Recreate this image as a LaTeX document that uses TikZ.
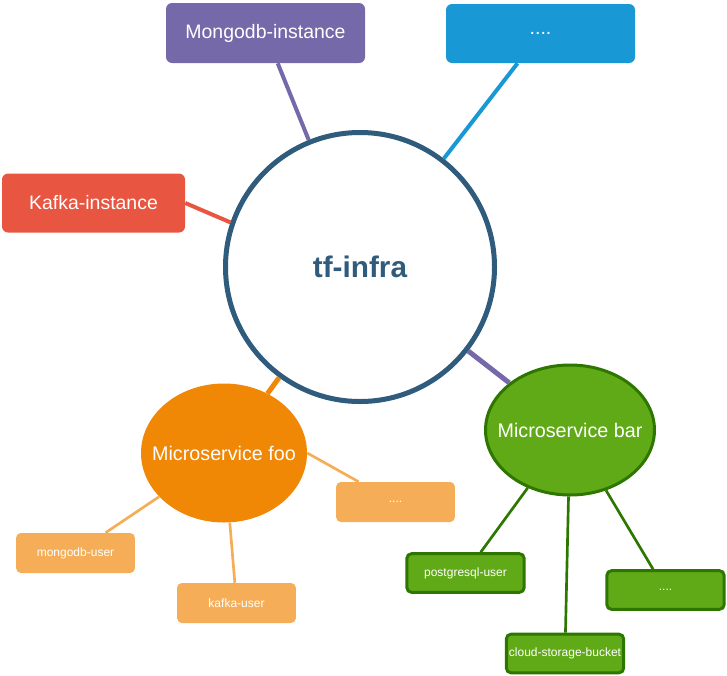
\documentclass[tikz,border=0pt]{standalone}
\usepackage{fontspec}
\setmainfont{Liberation Sans}
\usetikzlibrary{shapes.geometric,calc}
\definecolor{cpurple}{HTML}{7569A9}
\definecolor{cblue}{HTML}{1899D5}
\definecolor{cred}{HTML}{E85642}
\definecolor{cnavy}{HTML}{2F5B7C}
\definecolor{corange}{HTML}{F08705}
\definecolor{clorange}{HTML}{F5AE57}
\definecolor{cgreen}{HTML}{60A917}
\definecolor{cdgreen}{HTML}{2D7600}
\tikzset{
  bigbox/.style={rectangle, rounded corners=4.5pt, inner sep=0pt, text=white, font=\fontsize{14.6}{16}\selectfont},
  smallbox/.style={rectangle, rounded corners=3.5pt, inner sep=0pt, text=white, font=\fontsize{9}{10}\selectfont, minimum width=89pt, minimum height=30pt},
  orangebox/.style={smallbox, fill=clorange},
  greenbox/.style={smallbox, fill=cgreen, draw=cdgreen, line width=2.2pt, minimum width=88pt, minimum height=29pt},
  svc/.style={ellipse, inner sep=0pt},
  svctext/.style={text=white, font=\fontsize{14.8}{16}\selectfont, inner sep=0pt},
  thickline/.style={line width=3pt},
  thinorange/.style={line width=2pt, draw=clorange},
  thingreen/.style={line width=2pt, draw=cdgreen},
}
\begin{document}
\begin{tikzpicture}[x=0.75pt,y=-0.75pt]
\useasboundingbox (0,0) rectangle (727,675);
% nodes
\node[bigbox, fill=cpurple, minimum width=149.25pt, minimum height=45pt] (mongo) at (265.5,33) {Mongodb-instance};
\node[bigbox, fill=cblue, minimum width=141.75pt, minimum height=44.25pt] (dots1) at (540.5,33.5) {....};
\node[bigbox, fill=cred, minimum width=137.25pt, minimum height=44.25pt] (kafka) at (93.5,203) {Kafka-instance};
\node[circle, draw=cnavy, line width=3.75pt, fill=white, minimum size=201.75pt, inner sep=0pt, text=cnavy, font=\fontsize{22.3}{24}\selectfont\bfseries] (main) at (360,267) {tf-infra};
\node[svc, fill=corange, minimum width=124.5pt, minimum height=104.25pt] (foo) at (224,453) {};
\node[svctext] (footext) at (foo.center) {Microservice foo};
\node[svc, fill=cgreen, draw=cdgreen, line width=2.25pt, minimum width=126.75pt, minimum height=97.5pt] (bar) at (570,430) {};
\node[svctext] (bartext) at (bar.center) {Microservice bar};
\node[orangebox] (muser) at (75.5,553) {mongodb-user};
\node[orangebox] (kuser) at (236.5,603) {kafka-user};
\node[orangebox] (fdots) at (395.5,502) {....};
\node[greenbox] (puser) at (465.5,573) {postgresql-user};
\node[greenbox] (cloud) at (565,653.5) {cloud-storage-bucket};
\node[greenbox] (bdots) at (665.5,590) {....};
% connectors
\draw[thickline, cpurple] (mongo) -- (main);
\draw[thickline, cblue] (dots1) -- (main);
\draw[thickline, cred] (kafka.east) -- (main.161);
\draw[line width=3.75pt, corange] (main) -- (foo);
\draw[line width=3.75pt, cpurple] (main) -- (bar);
\draw[thinorange] (foo) -- (muser);
\draw[thinorange] (foo) -- (kuser);
\draw[thinorange] (foo.east) -- ($(fdots.north west)!0.19!(fdots.north east)$);
\draw[thingreen] (bar) -- (puser);
\draw[thingreen] (bar) -- (cloud);
\draw[thingreen] (bar) -- (bdots);
\end{tikzpicture}
\end{document}
